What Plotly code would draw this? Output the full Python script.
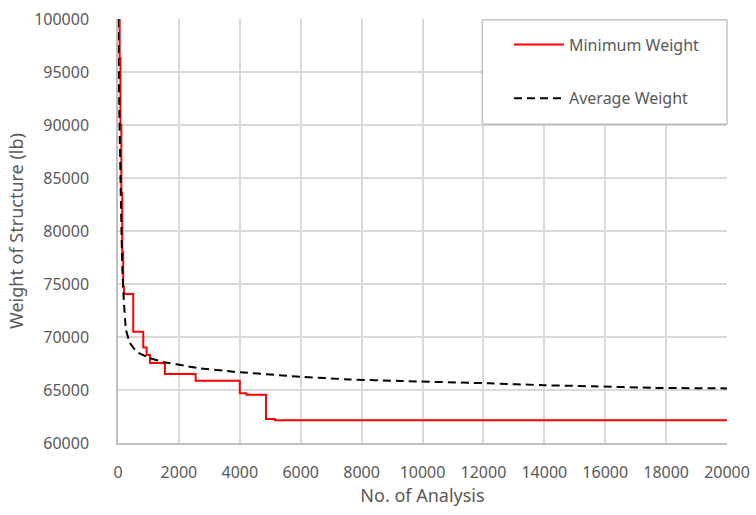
import plotly.graph_objects as go

# Minimum weight found so far (step history)
min_x = [0, 55, 80, 110, 140, 170, 200, 500, 830, 940, 1050, 1540, 2550, 4000, 4220, 4860, 5150, 20000]
min_y = [100000, 96300, 90000, 83600, 78000, 74700, 74060, 70500, 69000, 68300, 67550, 66500, 65880,
         64690, 64560, 62260, 62140, 62140]

# Average weight of the population
avg_x = [0, 40, 90, 140, 190, 260, 390, 610, 1050, 1480, 2360, 2690, 3780, 5970, 7600, 9260,
         12200, 14000, 15600, 17600, 20000]
avg_y = [100000, 92000, 83600, 76600, 73500, 70700, 69450, 68600, 68000, 67650, 67200, 67050,
         66730, 66250, 66000, 65850, 65630, 65450, 65350, 65200, 65150]

x_ticks = list(range(0, 20001, 2000))
y_ticks = list(range(60000, 100001, 5000))

FONT = "Noto Sans"
TXT = "#595959"
GRID = "#d9d9d9"

fig = go.Figure()
fig.add_trace(go.Scatter(
    x=min_x, y=min_y, mode="lines", name="Minimum Weight",
    line=dict(color="#ff0000", width=2, shape="hv"), legendgroup="a",
))
fig.add_trace(go.Scatter(
    x=avg_x, y=avg_y, mode="lines", name="Average Weight",
    line=dict(color="#000000", width=2, dash="8px,5px", shape="spline", smoothing=0.3),
    legendgroup="b",
))

fig.update_layout(
    width=756, height=515,
    margin=dict(l=118, r=29, t=19, b=72, autoexpand=False),
    paper_bgcolor="white", plot_bgcolor="white",
    font=dict(family=FONT, size=16, color=TXT),
    showlegend=True,
    legend=dict(
        x=0.642, y=0.98, xanchor="left", yanchor="top",
        bgcolor="rgba(0,0,0,0)", borderwidth=0,
        traceorder="grouped", tracegroupgap=30,
        itemwidth=50, font=dict(family=FONT, size=16, color=TXT),
    ),
    shapes=[dict(
        type="rect", xref="paper", yref="paper",
        x0=0.598, x1=1.0, y0=0.752, y1=0.998,
        line=dict(color="#a6a6a6", width=1), fillcolor="white", layer="above",
    )],
    xaxis=dict(
        range=[0, 20000], tickvals=x_ticks, tickformat="d", automargin=False,
        showgrid=True, gridcolor=GRID, gridwidth=1.5,
        zeroline=False, showline=True, linecolor="#bfbfbf", linewidth=1.5,
        ticks="", ticklabelstandoff=14,
        title=dict(text="No. of Analysis", font=dict(size=18, color=TXT), standoff=6),
    ),
    yaxis=dict(
        range=[60000, 100000], tickvals=y_ticks, tickformat="d", automargin=False,
        showgrid=True, gridcolor=GRID, gridwidth=1.5,
        zeroline=False, showline=True, linecolor="#bfbfbf", linewidth=1.5,
        ticks="", ticklabelstandoff=24,
        title=dict(text="Weight of Structure (lb)", font=dict(size=18, color=TXT), standoff=6),
    ),
)

fig.write_html("out.html")
